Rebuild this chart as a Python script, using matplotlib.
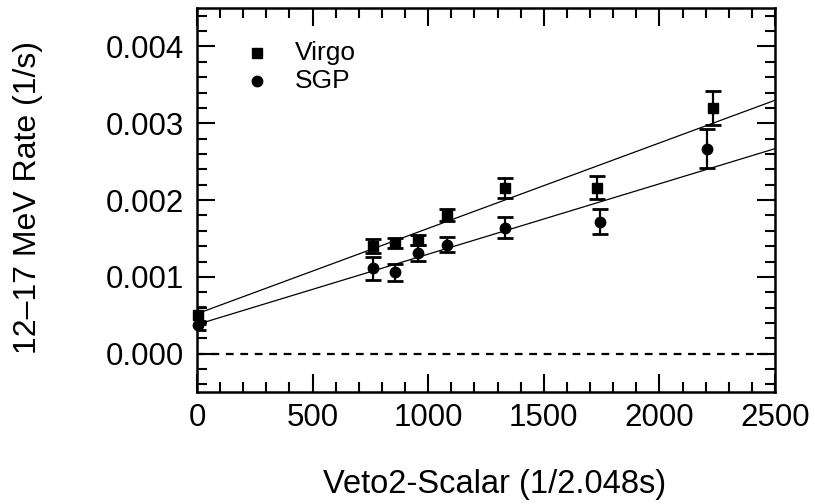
import matplotlib
matplotlib.use("Agg")
import matplotlib.pyplot as plt
from matplotlib.ticker import MultipleLocator
import numpy as np

plt.rcParams['font.family'] = ['Liberation Sans', 'DejaVu Sans']

# Virgo observations
virgo_x = [5, 761, 856, 956, 1081, 1332, 1730, 2232]
virgo_y = [0.00050, 0.00140, 0.00144, 0.00148, 0.00181, 0.00216, 0.00216, 0.00320]
virgo_err = [0.00011, 0.00009, 0.00007, 0.00007, 0.00008, 0.00013, 0.00015, 0.00022]

# SGP observations
sgp_x = [5, 761, 856, 956, 1081, 1332, 1743, 2206]
sgp_y = [0.00037, 0.00111, 0.00106, 0.00131, 0.00142, 0.00164, 0.00172, 0.00267]
sgp_err = [0.00006, 0.00015, 0.00011, 0.00010, 0.00010, 0.00014, 0.00016, 0.00025]

# Linear fits: rate = intercept + slope * veto
virgo_fit = (0.00052, (0.00330 - 0.00052) / 2500)
sgp_fit = (0.00038, (0.00267 - 0.00038) / 2500)

x_ticks = [0, 500, 1000, 1500, 2000, 2500]
y_ticks = [0.000, 0.001, 0.002, 0.003, 0.004]
y_tick_labels = ['0.000', '0.001', '0.002', '0.003', '0.004']
series_names = ['Virgo', 'SGP']

fig = plt.figure(figsize=(8.15, 5.04), dpi=100)
ax = fig.add_axes([0.2417, 0.222, 0.7093, 0.762])

xx = np.array([0, 2500])
for icpt, slope in (virgo_fit, sgp_fit):
    ax.plot(xx, icpt + slope * xx, color='black', lw=0.9, zorder=2)

ax.axhline(0.0, color='black', lw=1.6, dashes=(3.5, 3.0), zorder=1)

eb_kw = dict(fmt='none', ecolor='black', elinewidth=1.6, capsize=6, capthick=2.0, zorder=3)
ax.errorbar(virgo_x, virgo_y, yerr=virgo_err, **eb_kw)
ax.errorbar(sgp_x, sgp_y, yerr=sgp_err, **eb_kw)
ax.plot(virgo_x, virgo_y, ls='none', marker='s', ms=7, color='black', zorder=4, clip_on=False)
ax.plot(sgp_x, sgp_y, ls='none', marker='o', ms=7.5, color='black', zorder=4, clip_on=False)

ax.set_xlim(0, 2500)
ax.set_ylim(-0.0005, 0.0045)
ax.set_xticks(x_ticks)
ax.set_yticks(y_ticks)
ax.set_yticklabels(y_tick_labels)
ax.xaxis.set_minor_locator(MultipleLocator(100))
ax.yaxis.set_minor_locator(MultipleLocator(0.0002))
ax.tick_params(which='both', direction='in', top=True, right=True, width=1.5, labelsize=22.5)
ax.tick_params(which='major', length=13)
ax.tick_params(which='minor', length=7)
ax.tick_params(axis='x', which='major', pad=8)
ax.tick_params(axis='y', which='major', pad=9)
for s in ax.spines.values():
    s.set_linewidth(1.8)

ax.set_xlabel('Veto2-Scalar (1/2.048s)', fontsize=23.5)
ax.xaxis.set_label_coords(0.514, -0.263)
ax.xaxis.label.set_verticalalignment('baseline')
ax.set_ylabel('12\u201317 MeV Rate (1/s)', fontsize=23)
ax.yaxis.set_label_coords(-0.292, 0.508)
ax.yaxis.label.set_verticalalignment('center')

# Legend: marker keys with labels in the upper-left corner
key_x, text_x = 0.104, 0.170
for name, mk, ms, ky in zip(series_names, ['s', 'o'], [7, 7.5], [0.883, 0.810]):
    ax.plot([key_x], [ky], transform=ax.transAxes, ls='none', marker=mk, ms=ms, color='black')
    ax.text(text_x, ky, name, transform=ax.transAxes, fontsize=19, va='center', ha='left')

fig.savefig('out.png', dpi=100)
